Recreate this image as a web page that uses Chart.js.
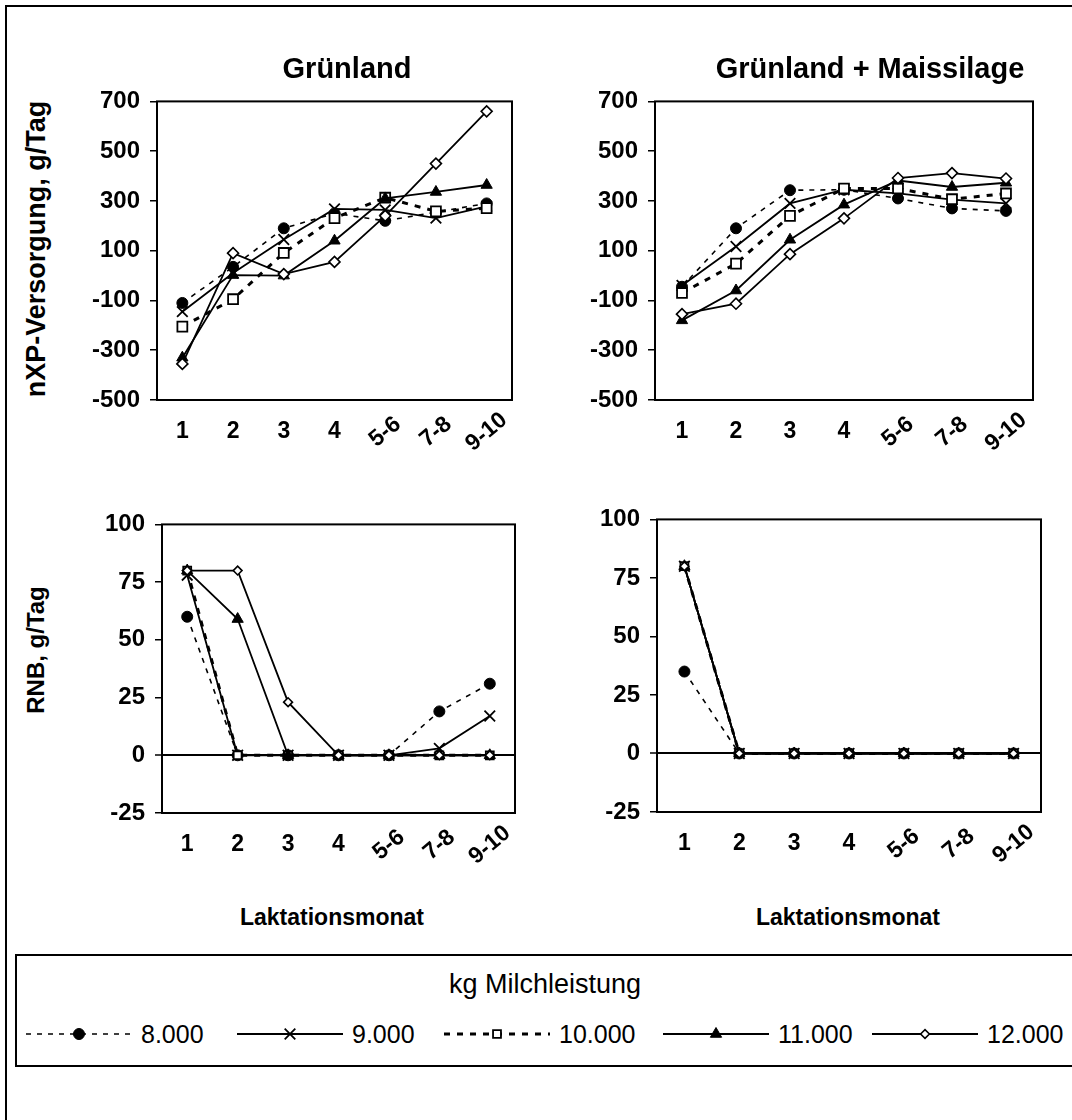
<!DOCTYPE html>
<html><head><meta charset="utf-8">
<script src="https://cdn.jsdelivr.net/npm/chart.js@4.4.1/dist/chart.umd.min.js"></script>
<style>
html,body{margin:0;padding:0;background:#fff;}
body{width:1072px;height:1120px;position:relative;overflow:hidden;font-family:"Liberation Sans",Arial,sans-serif;color:#000;}
canvas{position:absolute;}
.frame{position:absolute;left:5px;top:5px;width:1100px;height:1150px;border:2px solid #000;box-sizing:border-box;}
.t{position:absolute;white-space:nowrap;transform:translate(-50%,-50%);line-height:1;}
.title{font-weight:bold;font-size:29px;}
.ytitle{font-weight:bold;font-size:24px;transform:translate(-50%,-50%) rotate(-90deg);}
.ytitle.big{font-size:27px;}
.xtitle{font-weight:bold;font-size:23px;}
.legendbox{position:absolute;left:15px;top:954px;width:1100px;height:113px;border:2px solid #000;box-sizing:border-box;}
.ltitle{font-size:27px;}
.ltext{position:absolute;font-size:25px;white-space:nowrap;transform:translateY(-50%);line-height:1;}
</style>
</head><body>
<div class="frame"></div>
<div class="legendbox"></div>
<div id="root"></div>
<script>
// ---- data ----
const categories = ['1', '2', '3', '4', '5-6', '7-8', '9-10'];
const seriesNames = ['8.000', '9.000', '10.000', '11.000', '12.000'];
const nxpTicks = [-500, -300, -100, 100, 300, 500, 700];
const rnbTicks = [-25, 0, 25, 50, 75, 100];

// nXP-Versorgung, g/Tag – Grünland (one array per milk yield)
const nxpGruenland8000  = [-110, 35, 190, 250, 220, 255, 290];
const nxpGruenland9000  = [-145, 10, 145, 268, 264, 231, 278];
const nxpGruenland10000 = [-205, -95, 91, 231, 313, 258, 271];
const nxpGruenland11000 = [-330, 2, 0, 140, 310, 336, 364];
const nxpGruenland12000 = [-355, 90, 6, 55, 240, 450, 660];

// nXP-Versorgung, g/Tag – Grünland + Maissilage
const nxpMais8000  = [-45, 190, 343, 345, 310, 270, 260];
const nxpMais9000  = [-40, 117, 290, 345, 330, 305, 290];
const nxpMais10000 = [-70, 48, 240, 350, 350, 307, 330];
const nxpMais11000 = [-180, -60, 144, 285, 382, 356, 373];
const nxpMais12000 = [-155, -113, 86, 230, 392, 412, 390];

// RNB, g/Tag – Grünland
const rnbGruenland8000  = [60, 0, 0, 0, 0, 19, 31];
const rnbGruenland9000  = [78, 0, 0, 0, 0, 3, 17];
const rnbGruenland10000 = [80, 0, 0, 0, 0, 0, 0];
const rnbGruenland11000 = [80, 59, 0, 0, 0, 0, 0];
const rnbGruenland12000 = [80, 80, 23, 0, 0, 0, 0];

// RNB, g/Tag – Grünland + Maissilage
const rnbMais8000  = [35, 0, 0, 0, 0, 0, 0];
const rnbMais9000  = [80, 0, 0, 0, 0, 0, 0];
const rnbMais10000 = [80, 0, 0, 0, 0, 0, 0];
const rnbMais11000 = [80, 0, 0, 0, 0, 0, 0];
const rnbMais12000 = [80, 0, 0, 0, 0, 0, 0];

// ---- styles ----
const seriesStyles = [
  {pointStyle: 'circle',   radius: 5.5, fill: '#000', dash: [5, 6], width: 1.6, pbw: 1},
  {pointStyle: 'crossRot', radius: 7.5, fill: '#000', dash: [],     width: 1.8, pbw: 1.8},
  {pointStyle: 'rect',     radius: 7,   fill: '#fff', dash: [6, 7], width: 3,   pbw: 1.8},
  {pointStyle: 'triangle', radius: 6.5, fill: '#000', dash: [],     width: 1.8, pbw: 1},
  {pointStyle: 'rectRot',  radius: 5.5, fill: '#fff', dash: [],     width: 1.8, pbw: 1.6}
];
const FONT = '"Liberation Sans", Arial, sans-serif';

const framePlugin = {
  id: 'frame',
  beforeDatasetsDraw(chart) {
    const {ctx, chartArea: a} = chart;
    ctx.save();
    ctx.strokeStyle = '#000';
    ctx.lineWidth = 2;
    ctx.strokeRect(a.left, a.top, a.right - a.left, a.bottom - a.top);
    ctx.restore();
  }
};
const xLabelPlugin = {
  id: 'xlabels',
  afterDraw(chart, args, opts) {
    const xs = chart.scales.x, ctx = chart.ctx, a = chart.chartArea;
    ctx.save();
    ctx.font = 'bold 23px ' + FONT;
    ctx.fillStyle = '#000';
    ctx.textAlign = 'center';
    ctx.textBaseline = 'middle';
    categories.forEach((lab, i) => {
      const px = xs.getPixelForValue(i);
      ctx.save();
      ctx.translate(px, a.bottom + opts.offset);
      if (lab.length > 1) ctx.rotate(-40 * Math.PI / 180);
      ctx.fillText(lab, 0, 0);
      ctx.restore();
    });
    ctx.restore();
  }
};

function makePanel(area, rows, ticks, scaleMarker) {
  const YW = 100, PT = 22, PR = 16, XH = 62;
  const cv = document.createElement('canvas');
  const left = area.l - YW, top = area.t - PT;
  const w = area.r + PR - left, h = area.b + XH - top;
  cv.width = w; cv.height = h;
  cv.style.left = left + 'px'; cv.style.top = top + 'px';
  cv.style.width = w + 'px'; cv.style.height = h + 'px';
  document.getElementById('root').appendChild(cv);
  const datasets = rows.map((d, i) => {
    const s = seriesStyles[i];
    const r = (s.pointStyle === 'rect' || s.pointStyle === 'rectRot') ? s.radius * scaleMarker : s.radius;
    return {
      label: seriesNames[i], data: d,
      borderColor: '#000', borderWidth: s.width, borderDash: s.dash,
      pointStyle: s.pointStyle, pointRadius: r, pointBackgroundColor: s.fill,
      pointBorderColor: '#000', pointBorderWidth: s.pbw,
      tension: 0, fill: false, order: 4 - i
    };
  });
  new Chart(cv, {
    type: 'line',
    data: {labels: categories, datasets},
    plugins: [framePlugin, xLabelPlugin],
    options: {
      responsive: false, animation: false, devicePixelRatio: 1,
      layout: {padding: {left: 0, top: PT, right: PR, bottom: 0}},
      plugins: {legend: {display: false}, tooltip: {enabled: false}, xlabels: {offset: 32}},
      scales: {
        x: {
          type: 'category', offset: true,
          grid: {display: false}, border: {display: false},
          ticks: {display: false},
          afterFit: s => { s.height = XH; }
        },
        y: {
          min: ticks[0], max: ticks[ticks.length - 1],
          afterBuildTicks: s => { s.ticks = ticks.map(v => ({value: v})); },
          border: {display: false},
          grid: {
            drawOnChartArea: true, drawTicks: true, tickLength: 7,
            color: c => (c.tick && c.tick.value === 0) ? '#000' : 'rgba(0,0,0,0)',
            lineWidth: c => (c.tick && c.tick.value === 0) ? 2 : 1.5,
            tickColor: '#000', tickWidth: 1.5
          },
          ticks: {padding: 10, color: '#000', font: {family: FONT, size: 24, weight: 'bold'}},
          afterFit: s => { s.width = YW; }
        }
      }
    }
  });
}

makePanel({l: 157, t: 99, r: 512, b: 400},
  [nxpGruenland8000, nxpGruenland9000, nxpGruenland10000, nxpGruenland11000, nxpGruenland12000], nxpTicks, 1);
makePanel({l: 655, t: 99, r: 1033, b: 400},
  [nxpMais8000, nxpMais9000, nxpMais10000, nxpMais11000, nxpMais12000], nxpTicks, 1);
makePanel({l: 162, t: 522, r: 515, b: 813},
  [rnbGruenland8000, rnbGruenland9000, rnbGruenland10000, rnbGruenland11000, rnbGruenland12000], rnbTicks, 0.8);
makePanel({l: 657, t: 517, r: 1041, b: 812},
  [rnbMais8000, rnbMais9000, rnbMais10000, rnbMais11000, rnbMais12000], rnbTicks, 0.8);

// ---- texts ----
function addText(cls, txt, x, y) {
  const d = document.createElement('div');
  d.className = 't ' + cls;
  d.textContent = txt;
  d.style.left = x + 'px'; d.style.top = y + 'px';
  document.getElementById('root').appendChild(d);
}
addText('title', 'Grünland', 347, 68);
addText('title', 'Grünland + Maissilage', 870, 68);
addText('ytitle big', 'nXP-Versorgung, g/Tag', 36, 249);
addText('ytitle', 'RNB, g/Tag', 36, 650);
addText('xtitle', 'Laktationsmonat', 332, 917);
addText('xtitle', 'Laktationsmonat', 848, 917);
addText('ltitle', 'kg Milchleistung', 545, 984);

// ---- legend ----
const legendLineX = [26, 237, 444, 663, 872];
const legendY = 1034;
seriesStyles.forEach((s, i) => {
  const W = 106, H = 30;
  const cv = document.createElement('canvas');
  cv.width = W; cv.height = H;
  cv.style.left = legendLineX[i] + 'px'; cv.style.top = (legendY - H / 2) + 'px';
  cv.style.width = W + 'px'; cv.style.height = H + 'px';
  document.getElementById('root').appendChild(cv);
  const ctx = cv.getContext('2d');
  ctx.strokeStyle = '#000';
  ctx.lineWidth = s.width;
  ctx.setLineDash(s.dash);
  ctx.beginPath(); ctx.moveTo(0, H / 2); ctx.lineTo(W, H / 2); ctx.stroke();
  ctx.setLineDash([]);
  ctx.fillStyle = s.fill; ctx.lineWidth = s.pbw;
  const r = (s.pointStyle === 'rect' || s.pointStyle === 'rectRot') ? s.radius * 0.8 : s.radius;
  Chart.helpers.drawPoint(ctx, {pointStyle: s.pointStyle, radius: r, rotation: 0, borderWidth: s.pbw}, W / 2, H / 2);
  const t = document.createElement('div');
  t.className = 'ltext';
  t.textContent = seriesNames[i];
  t.style.left = (legendLineX[i] + W + 9) + 'px';
  t.style.top = legendY + 'px';
  document.getElementById('root').appendChild(t);
});
</script>
</body></html>
